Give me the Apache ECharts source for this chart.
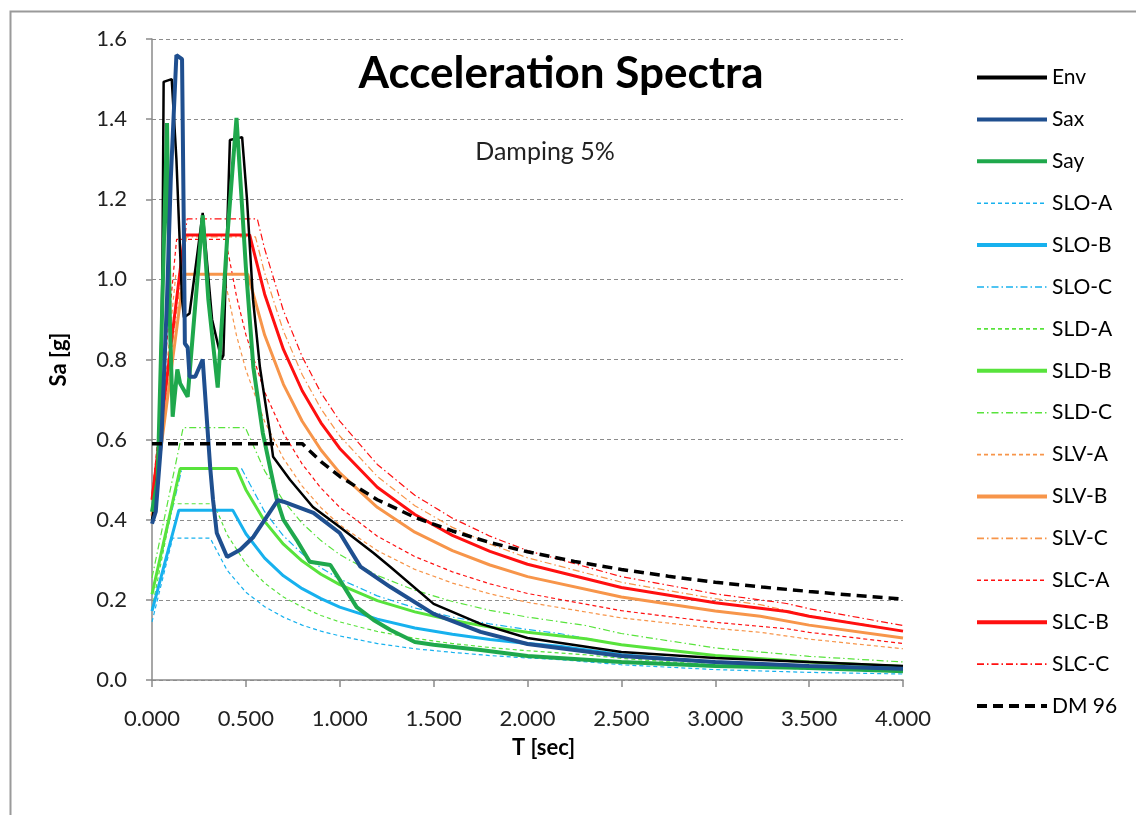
<!DOCTYPE html>
<html><head><meta charset="utf-8">
<script src="https://cdn.jsdelivr.net/npm/echarts@6/dist/echarts.min.js"></script>
<style>html,body{margin:0;padding:0;background:#fff}#c{width:1136px;height:815px}</style>
</head><body><div id="c"></div>
<script>
const env = [[0,0.40],[0.02,0.45],[0.04,0.6],[0.055,1.0],[0.062,1.493],[0.105,1.50],[0.13,1.3],[0.16,0.95],[0.17,0.905],[0.2,0.915],[0.27,1.166],[0.32,0.9],[0.37,0.80],[0.38,0.81],[0.415,1.348],[0.48,1.355],[0.506,1.2],[0.538,0.95],[0.575,0.78],[0.628,0.617],[0.645,0.557],[0.735,0.50],[0.857,0.432],[1.0,0.382],[1.18,0.317],[1.27,0.282],[1.5,0.19],[1.75,0.14],[2.0,0.105],[2.5,0.07],[3.0,0.055],[3.5,0.045],[4.0,0.035]];
const sax = [[0,0.39],[0.02,0.42],[0.05,0.6],[0.08,0.95],[0.1,1.25],[0.13,1.56],[0.16,1.55],[0.17,1.1],[0.175,0.84],[0.19,0.83],[0.2,0.757],[0.23,0.757],[0.27,0.80],[0.31,0.53],[0.325,0.45],[0.345,0.367],[0.40,0.307],[0.47,0.325],[0.54,0.357],[0.67,0.449],[0.70,0.445],[0.86,0.417],[1.0,0.367],[1.11,0.283],[1.27,0.232],[1.5,0.165],[1.75,0.12],[2.0,0.09],[2.5,0.06],[3.0,0.045],[3.5,0.035],[4.0,0.028]];
const say = [[0,0.42],[0.03,0.5],[0.05,0.85],[0.08,1.39],[0.095,0.9],[0.11,0.657],[0.135,0.775],[0.15,0.74],[0.19,0.707],[0.27,1.16],[0.3,0.95],[0.35,0.73],[0.40,1.10],[0.45,1.403],[0.5,1.03],[0.54,0.78],[0.59,0.617],[0.665,0.45],[0.70,0.40],[0.77,0.35],[0.84,0.295],[0.95,0.287],[1.0,0.25],[1.09,0.182],[1.18,0.15],[1.27,0.125],[1.4,0.095],[1.5,0.088],[1.75,0.075],[2.0,0.06],[2.5,0.045],[3.0,0.035],[3.5,0.03],[4.0,0.022]];
const sloA = [[0,0.145],[0.11,0.354],[0.31,0.354],[0.4,0.274],[0.5,0.219],[0.6,0.183],[0.7,0.157],[0.8,0.137],[0.9,0.122],[1.0,0.110],[1.2,0.091],[1.4,0.078],[1.6,0.069],[1.8,0.061],[2.0,0.055],[2.17,0.051],[2.5,0.038],[3.0,0.026],[3.5,0.019],[4.0,0.015]];
const sloB = [[0,0.172],[0.143,0.424],[0.43,0.424],[0.5,0.365],[0.6,0.304],[0.7,0.260],[0.8,0.228],[0.9,0.203],[1.0,0.182],[1.2,0.152],[1.4,0.130],[1.6,0.114],[1.8,0.101],[2.0,0.091],[2.17,0.084],[2.5,0.063],[3.0,0.044],[3.5,0.032],[4.0,0.025]];
const sloC = [[0,0.213],[0.159,0.527],[0.478,0.527],[0.6,0.420],[0.7,0.360],[0.8,0.315],[0.9,0.280],[1.0,0.252],[1.2,0.210],[1.4,0.180],[1.6,0.157],[1.8,0.140],[2.0,0.126],[2.17,0.116],[2.5,0.088],[3.0,0.061],[3.5,0.045],[4.0,0.034]];
const sldA = [[0,0.178],[0.11,0.44],[0.33,0.44],[0.4,0.363],[0.5,0.290],[0.6,0.242],[0.7,0.207],[0.8,0.182],[0.9,0.161],[1.0,0.145],[1.2,0.121],[1.4,0.104],[1.6,0.091],[1.8,0.081],[2.0,0.073],[2.31,0.063],[2.5,0.054],[3.0,0.037],[3.5,0.027],[4.0,0.021]];
const sldB = [[0,0.214],[0.15,0.528],[0.45,0.528],[0.5,0.475],[0.6,0.396],[0.7,0.339],[0.8,0.297],[0.9,0.264],[1.0,0.238],[1.2,0.198],[1.4,0.170],[1.6,0.149],[1.8,0.132],[2.0,0.119],[2.31,0.103],[2.5,0.088],[3.0,0.061],[3.5,0.045],[4.0,0.034]];
const sldC = [[0,0.255],[0.166,0.63],[0.497,0.63],[0.6,0.522],[0.7,0.447],[0.8,0.391],[0.9,0.348],[1.0,0.313],[1.2,0.261],[1.4,0.224],[1.6,0.196],[1.8,0.174],[2.0,0.157],[2.31,0.136],[2.5,0.116],[3.0,0.080],[3.5,0.059],[4.0,0.045]];
const slvA = [[0,0.41],[0.127,1.013],[0.382,1.013],[0.45,0.860],[0.5,0.774],[0.6,0.645],[0.7,0.553],[0.8,0.484],[0.9,0.430],[1.0,0.387],[1.2,0.323],[1.4,0.276],[1.6,0.242],[1.8,0.215],[2.0,0.194],[2.5,0.155],[3.0,0.129],[3.24,0.119],[3.5,0.102],[4.0,0.078]];
const slvB = [[0,0.41],[0.17,1.013],[0.51,1.013],[0.6,0.861],[0.7,0.738],[0.8,0.646],[0.9,0.574],[1.0,0.517],[1.2,0.431],[1.4,0.369],[1.6,0.323],[1.8,0.287],[2.0,0.258],[2.5,0.207],[3.0,0.172],[3.24,0.159],[3.5,0.137],[4.0,0.105]];
const slvC = [[0,0.448],[0.184,1.106],[0.551,1.106],[0.6,1.016],[0.7,0.871],[0.8,0.762],[0.9,0.677],[1.0,0.609],[1.2,0.508],[1.4,0.435],[1.6,0.381],[1.8,0.339],[2.0,0.305],[2.5,0.244],[3.0,0.203],[3.24,0.188],[3.5,0.161],[4.0,0.123]];
const slcA = [[0,0.45],[0.131,1.10],[0.392,1.10],[0.45,0.958],[0.5,0.862],[0.6,0.719],[0.7,0.616],[0.8,0.539],[0.9,0.479],[1.0,0.431],[1.2,0.359],[1.4,0.308],[1.6,0.270],[1.8,0.240],[2.0,0.216],[2.5,0.173],[3.0,0.144],[3.38,0.128],[3.5,0.119],[4.0,0.091]];
const slcB = [[0,0.45],[0.173,1.111],[0.52,1.111],[0.6,0.963],[0.7,0.825],[0.8,0.722],[0.9,0.642],[1.0,0.578],[1.2,0.481],[1.4,0.413],[1.6,0.361],[1.8,0.321],[2.0,0.289],[2.5,0.231],[3.0,0.193],[3.38,0.171],[3.5,0.159],[4.0,0.122]];
const slcC = [[0,0.465],[0.187,1.151],[0.561,1.151],[0.6,1.076],[0.7,0.922],[0.8,0.807],[0.9,0.717],[1.0,0.646],[1.2,0.538],[1.4,0.461],[1.6,0.404],[1.8,0.359],[2.0,0.323],[2.5,0.258],[3.0,0.215],[3.38,0.191],[3.5,0.178],[4.0,0.136]];
const dm96 = [[0,0.59],[0.8,0.59],[0.9,0.545],[1.0,0.508],[1.2,0.450],[1.4,0.406],[1.6,0.372],[1.8,0.343],[2.0,0.320],[2.25,0.296],[2.5,0.276],[2.75,0.259],[3.0,0.244],[3.25,0.232],[3.5,0.221],[3.75,0.211],[4.0,0.202]];

const FONT = 'Lato';
const DASH = [4, 3];
const DASHDOT = [7, 3, 1.5, 3];
const BLUE = '#17b1ee', GREEN = '#58e33c', ORANGE = '#f7954a', RED = '#ff1010';

const legendWidths = {};
function mk(name, data, color, width, type, z, lw) {
  legendWidths[name] = lw;
  return {
    name, type: 'line', data, symbol: 'none', showSymbol: false, z,
    lineStyle: { color, width, type }, itemStyle: { color },
    emphasis: { disabled: true }, animation: false
  };
}

const series = [
  mk('Env', env, '#000000', 2.5, 'solid', 5, 4),
  mk('Sax', sax, '#1f4f8f', 4, 'solid', 7, 4),
  mk('Say', say, '#1fa84c', 4, 'solid', 6, 4),
  mk('SLO-A', sloA, BLUE, 1.2, DASH, 3, 1.6),
  mk('SLO-B', sloB, BLUE, 3, 'solid', 4, 4),
  mk('SLO-C', sloC, BLUE, 1.2, DASHDOT, 3, 1.6),
  mk('SLD-A', sldA, GREEN, 1.2, DASH, 3, 1.6),
  mk('SLD-B', sldB, GREEN, 3, 'solid', 4, 4),
  mk('SLD-C', sldC, GREEN, 1.2, DASHDOT, 3, 1.6),
  mk('SLV-A', slvA, ORANGE, 1.2, DASH, 3, 1.6),
  mk('SLV-B', slvB, ORANGE, 3, 'solid', 4, 4),
  mk('SLV-C', slvC, ORANGE, 1.2, DASHDOT, 3, 1.6),
  mk('SLC-A', slcA, RED, 1.2, DASH, 3, 1.6),
  mk('SLC-B', slcB, RED, 3, 'solid', 4, 4),
  mk('SLC-C', slcC, RED, 1.2, DASHDOT, 3, 1.6),
  mk('DM 96', dm96, '#000000', 3.5, [10, 6], 8, 4)
];

const chart = echarts.init(document.getElementById('c'), null, { renderer: 'canvas' });
chart.setOption({
  backgroundColor: '#ffffff',
  animation: false,
  textStyle: { fontFamily: FONT },
  title: [
    { text: 'Acceleration Spectra', left: 556, top: 47, textAlign: 'center',
      textStyle: { fontFamily: FONT, fontSize: 44, fontWeight: 'bold', color: '#000' } },
    { text: 'Damping 5%', left: 540, top: 134, textAlign: 'center',
      textStyle: { fontFamily: FONT, fontSize: 25, fontWeight: 'normal', color: '#222' } }
  ],
  graphic: [
    { type: 'rect', left: 8, top: 9, shape: { width: 1300, height: 1000 }, silent: true,
      style: { fill: 'none', stroke: '#9a9a9a', lineWidth: 2 }, z: -1 }
  ],
  legend: {
    orient: 'vertical', left: 975, top: 67, padding: 0,
    itemWidth: 70, itemHeight: 14, itemGap: 20.9,
    itemStyle: { opacity: 0 },
    data: series.map(s => ({ name: s.name, lineStyle: { width: legendWidths[s.name] } })),
    textStyle: { fontFamily: FONT, fontSize: 21, color: '#000' },
    selectedMode: false
  },
  grid: { left: 152, right: 233, top: 39, bottom: 135, containLabel: false },
  xAxis: {
    type: 'value', min: 0, max: 4, interval: 0.5,
    name: 'T [sec]', nameLocation: 'middle', nameGap: 57,
    nameTextStyle: { fontFamily: FONT, fontSize: 22, fontWeight: 'bold', color: '#000', padding: [0, 0, 0, 32] },
    axisLine: { lineStyle: { color: '#8a8a8a', width: 1.5 } },
    axisTick: { show: true, length: 7, lineStyle: { color: '#8a8a8a', width: 1.5 } },
    axisLabel: { fontFamily: FONT, fontSize: 22, color: '#222', margin: 28, formatter: v => v.toFixed(3) },
    splitLine: { show: false }
  },
  yAxis: {
    type: 'value', min: 0, max: 1.6, interval: 0.2,
    name: 'Sa [g]', nameLocation: 'middle', nameGap: 82, nameRotate: 90,
    nameTextStyle: { fontFamily: FONT, fontSize: 22, fontWeight: 'bold', color: '#000' },
    axisLine: { show: true, lineStyle: { color: '#8a8a8a', width: 1.5 } },
    axisTick: { show: true, length: 6, lineStyle: { color: '#8a8a8a', width: 1.5 } },
    axisLabel: { fontFamily: FONT, fontSize: 22, color: '#222', margin: 25, formatter: v => v.toFixed(1) },
    splitLine: { show: true, lineStyle: { color: '#8c8c8c', width: 1.2, type: [4, 3] } }
  },
  series
});
</script>
</body></html>
